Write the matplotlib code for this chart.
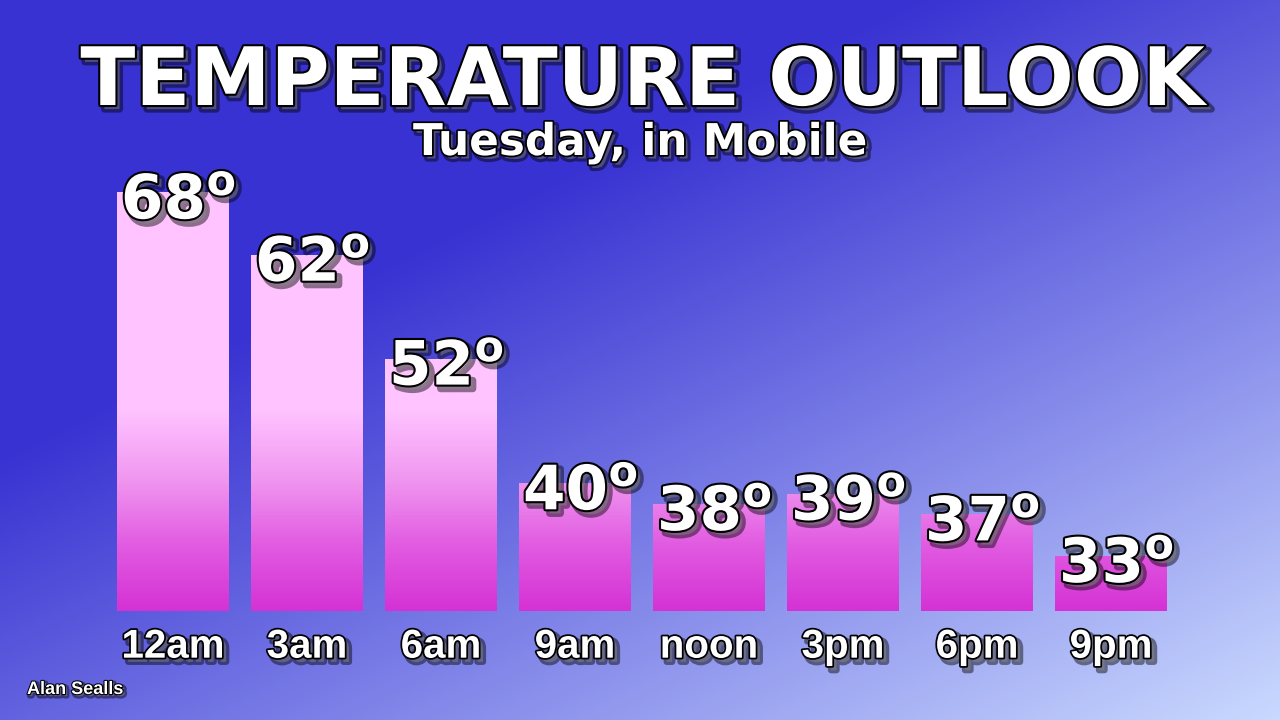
import numpy as np
import matplotlib
matplotlib.use("Agg")
import matplotlib.pyplot as plt
import matplotlib.patheffects as pe
from matplotlib.colors import LinearSegmentedColormap

# ---- data ----
times = ["12am", "3am", "6am", "9am", "noon", "3pm", "6pm", "9pm"]
temps = [68, 62, 52, 40, 38, 39, 37, 33]
title = "TEMPERATURE OUTLOOK"
subtitle = "Tuesday, in Mobile"
credit = "Alan Sealls"

plt.rcParams["mathtext.fontset"] = "custom"
plt.rcParams["mathtext.bf"] = "DejaVu Sans:bold"
plt.rcParams["mathtext.rm"] = "DejaVu Sans"

W, H = 1280, 720
fig = plt.figure(figsize=(W / 100, H / 100), dpi=100)

# ---- background gradient ----
yy, xx = np.mgrid[0:H, 0:W]
t = (xx + 2.0 * yy)
t = np.clip((t - 912) / (2720 - 912), 0, 1)
dark = np.array([56, 50, 210]) / 255
light = np.array([202, 217, 255]) / 255
img = dark[None, None, :] * (1 - t[..., None]) + light[None, None, :] * t[..., None]
bg = fig.add_axes([0, 0, 1, 1])
bg.imshow(img, extent=[0, 1, 0, 1], aspect="auto", origin="upper", zorder=0)
bg.set_axis_off()

# ---- main axes ----
ax_left, ax_bottom_px, ax_w, ax_h = 106, 611, 1072, 451
ax = fig.add_axes([ax_left / W, (H - ax_bottom_px) / H, ax_w / W, ax_h / H])
ax.patch.set_alpha(0)
for s in ax.spines.values():
    s.set_visible(False)
x = np.arange(len(times))
ax.set_xlim(-0.5, len(times) - 0.5)
ymin = 27.7
ax.set_ylim(ymin, ymin + ax_h / 10.39)
ax.set_yticks([])

bars = ax.bar(x, temps, width=0.83, color="none", edgecolor="none")

bar_cmap = LinearSegmentedColormap.from_list(
    "bar",
    [(0.0, (213/255, 50/255, 213/255)),
     (0.142, (225/255, 90/255, 225/255)),
     (0.29, (240/255, 150/255, 240/255)),
     (0.446, (255/255, 196/255, 255/255)),
     (1.0, (255/255, 196/255, 255/255))])
grad = np.linspace(1, 0, 256).reshape(-1, 1)
for b in bars:
    im = ax.imshow(grad, cmap=bar_cmap, vmin=0, vmax=1, aspect="auto",
                   extent=[0, 1, 0, 1], transform=ax.transAxes, zorder=1)
    im.set_clip_path(b)

def effects(lw=3, sh=3):
    return [pe.Stroke(linewidth=lw + 2, foreground="black", offset=(sh, -sh), alpha=0.45),
            pe.Stroke(linewidth=lw, foreground="black"),
            pe.Normal()]

for i, v in enumerate(temps):
    ax.annotate(f"{v}$^{{\\mathbf{{o}}}}$", xy=(x[i], v), xytext=(4, -19),
                textcoords="offset points", ha="center", va="baseline",
                fontsize=44, fontweight="bold", family="DejaVu Sans",
                color="white", path_effects=effects(3, 3), zorder=5)

ax.set_xticks(x, times)
ax.tick_params(axis="x", length=0, pad=12)
for lab in ax.get_xticklabels():
    lab.set_fontsize(29)
    lab.set_fontweight("bold")
    lab.set_family("Liberation Sans")
    lab.set_color("white")
    lab.set_path_effects(effects(2.5, 3))

fig.text(642 / W, 1 - 105 / H, title, ha="center", va="baseline", fontsize=58,
         fontweight="bold", family="DejaVu Sans", color="white",
         path_effects=effects(3, 3))
fig.text(640 / W, 1 - 155 / H, subtitle, ha="center", va="baseline", fontsize=31.5,
         fontweight="bold", family="DejaVu Sans", color="white",
         path_effects=effects(2.5, 2.5))
fig.text(27 / W, 1 - 694 / H, credit, ha="left", va="baseline", fontsize=13,
         fontweight="bold", family="Liberation Sans", color="white",
         path_effects=effects(1.5, 1.5))

fig.savefig("out.png", dpi=100)
